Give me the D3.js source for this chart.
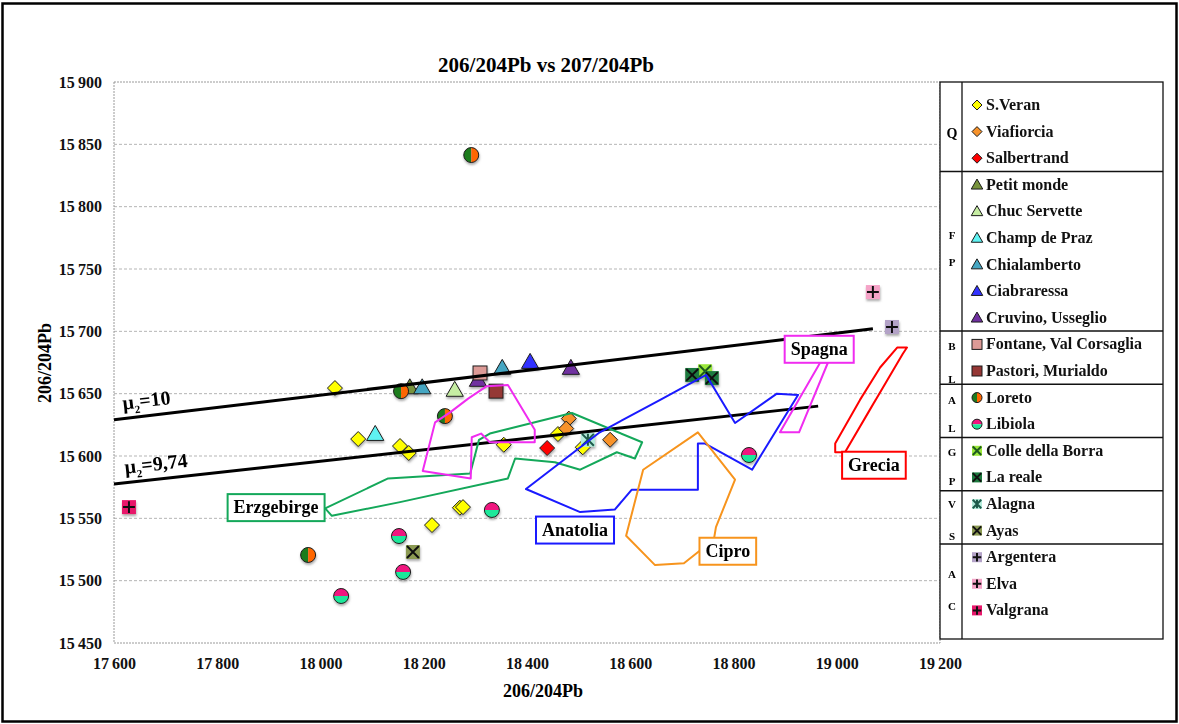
<!DOCTYPE html>
<html>
<head>
<meta charset="utf-8">
<script src="https://cdn.jsdelivr.net/npm/d3@7"></script>
<style>
  body { margin: 0; background: #fff; }
  svg { display: block; }
  text { font-family: "Liberation Serif", "Times New Roman", serif; }
</style>
</head>
<body>
<div id="chart"></div>
<script>
// ---- data ----
const xTicks = [17600, 17800, 18000, 18200, 18400, 18600, 18800, 19000, 19200];
const yTicks = [15450, 15500, 15550, 15600, 15650, 15700, 15750, 15800, 15850, 15900];

const seriesNames = ["S.Veran", "Viafiorcia", "Salbertrand", "Petit monde", "Chuc Servette",
  "Champ de Praz", "Chialamberto", "Ciabraressa", "Cruvino, Usseglio", "Fontane, Val Corsaglia",
  "Pastori, Murialdo", "Loreto", "Libiola", "Colle della Borra", "La reale", "Alagna", "Ayas",
  "Argentera", "Elva", "Valgrana"];

const sVeran = [[18028, 15654.5], [18073, 15613.6], [18154, 15608], [18171, 15602.4], [18355, 15609],
  [18216, 15544.6], [18270, 15558.5], [18276, 15559], [18460, 15617.6], [18508, 15607]];
const viafiorcia = [[18481, 15630], [18476, 15622], [18561, 15613]];
const salbertrand = [[18439, 15606.4]];
const petitMonde = [[18173, 15655]];
const chucServette = [[18260, 15653]];
const champDePraz = [[18106, 15617.6]];
const chialamberto = [[18197, 15655], [18352, 15670.6]];
const ciabraressa = [[18406, 15675.4]];
const cruvino = [[18305, 15661], [18485, 15670.6]];
const fontane = [[18309, 15666.6]];
const pastori = [[18340, 15652]];
const loreto = [[18292, 15841.4], [18156, 15652], [18241, 15632], [17976, 15520.6]];
const libiola = [[18040, 15487.7], [18152, 15535.8], [18160, 15507], [18332, 15556.7], [18830, 15600.8]];
const colleBorra = [[18745, 15668]];
const laReale = [[18720, 15665], [18758, 15662.5]];
const alagna = [[18518, 15613]];
const ayas = [[18179, 15523]];
const argentera = [[19107, 15703.5]];
const elva = [[19070, 15731.5]];
const valgrana = [[17629, 15559]];

const seriesValues = [sVeran, viafiorcia, salbertrand, petitMonde, chucServette, champDePraz,
  chialamberto, ciabraressa, cruvino, fontane, pastori, loreto, libiola, colleBorra, laReale,
  alagna, ayas, argentera, elva, valgrana];

// model lines
const mu10Line = [[17600, 15629], [19070, 15702]];
const mu974Line = [[17600, 15577.5], [18964, 15640]];

// ore field outlines
const erzgebirgeOutline = [[18009, 15558], [18131, 15582], [18290, 15586], [18307, 15613], [18328, 15618],
  [18487, 15634.5], [18623, 15611], [18609, 15598], [18574, 15603], [18503, 15589], [18454, 15595],
  [18377, 15598], [18363, 15582], [18154, 15563], [18022, 15552]];
const spagnaOutline = [[18322, 15656], [18363, 15657], [18415, 15621], [18415, 15611], [18328, 15611],
  [18311, 15618], [18293, 15615], [18291, 15582], [18198, 15588], [18222, 15627], [18251, 15635], [18286, 15646]];
const spagnaOutline2 = [[18968, 15675], [18983, 15675], [18927, 15619], [18890, 15619]];
const anatoliaOutline = [[18398, 15573.5], [18503, 15555], [18570, 15557], [18603, 15573], [18731, 15573],
  [18731, 15610], [18745, 15610], [18836, 15589], [18925, 15649], [18884, 15650], [18803, 15626.5],
  [18747, 15665], [18658, 15645], [18541, 15619]];
const ciproOutline = [[18731, 15619], [18803, 15581], [18766, 15543], [18762, 15533], [18704, 15514],
  [18648, 15512.5], [18592, 15536], [18625, 15589]];
const greciaOutline = [[19136, 15687], [19117, 15687], [19084, 15671], [19045, 15645], [18997, 15610],
  [18997, 15603], [19016, 15603], [19064, 15637], [19128, 15682]];

const regionNames = ["Erzgebirge", "Spagna", "Spagna", "Anatolia", "Cipro", "Grecia"];
const regionOutlines = [erzgebirgeOutline, spagnaOutline, spagnaOutline2, anatoliaOutline, ciproOutline, greciaOutline];
const regionLabelNames = ["Erzgebirge", "Spagna", "Anatolia", "Cipro", "Grecia"];
const regionLabelAt = [[17914, 15559], [18966, 15686], [18493, 15541], [18789, 15524], [19072, 15593]];

// ---- styles ----
const markerStyles = {
  "S.Veran": { shape: "diamond", fill: "#ffff00", stroke: "#1a1a1a" },
  "Viafiorcia": { shape: "diamond", fill: "#f7922a", stroke: "#1a1a1a" },
  "Salbertrand": { shape: "diamond", fill: "#ff0000", stroke: "#1a1a1a" },
  "Petit monde": { shape: "triangle", fill: "#77933c", stroke: "#1a1a1a" },
  "Chuc Servette": { shape: "triangle", fill: "#c6eda3", stroke: "#1a1a1a" },
  "Champ de Praz": { shape: "triangle", fill: "#5ff2f2", stroke: "#1a1a1a" },
  "Chialamberto": { shape: "triangle", fill: "#45a6c2", stroke: "#1a1a1a" },
  "Ciabraressa": { shape: "triangle", fill: "#3333ff", stroke: "#1a1a1a" },
  "Cruvino, Usseglio": { shape: "triangle", fill: "#7030a0", stroke: "#1a1a1a" },
  "Fontane, Val Corsaglia": { shape: "square", fill: "#dc9a96", stroke: "#1a1a1a" },
  "Pastori, Murialdo": { shape: "square", fill: "#953735", stroke: "#1a1a1a" },
  "Loreto": { shape: "halfV", fill: "#1e7b1e", fill2: "#ff6600", stroke: "#1a1a1a" },
  "Libiola": { shape: "halfH", fill: "#f0157f", fill2: "#1fe89a", stroke: "#1a1a1a" },
  "Colle della Borra": { shape: "boxX", fill: "#9be83a", mark: "#1f5a1f" },
  "La reale": { shape: "boxX", fill: "#1d7a3f", mark: "#111" },
  "Alagna": { shape: "boxStar", fill: "#b5ecdc", mark: "#1d5a4a" },
  "Ayas": { shape: "boxX", fill: "#8c9a52", mark: "#111" },
  "Argentera": { shape: "boxPlus", fill: "#b3a2c7", mark: "#111" },
  "Elva": { shape: "boxPlus", fill: "#f5a3c7", mark: "#111" },
  "Valgrana": { shape: "boxPlus", fill: "#e8176b", mark: "#111" }
};
const regionColors = { "Erzgebirge": "#14a85a", "Spagna": "#f02cf0", "Anatolia": "#1a1aff", "Cipro": "#f7941d", "Grecia": "#ff0000" };

const width = 1179, height = 724;
const margin = { top: 82, right: 239, bottom: 81, left: 114 };

const svg = d3.select("#chart").append("svg")
  .attr("width", width).attr("height", height);

const defs = svg.append("defs");
defs.append("filter").attr("id", "shadow").attr("x", "-50%").attr("y", "-50%").attr("width", "200%").attr("height", "200%")
  .append("feDropShadow").attr("dx", 0.5).attr("dy", 2).attr("stdDeviation", 0.9)
  .attr("flood-color", "#777").attr("flood-opacity", 0.6);

// outer frame
svg.append("rect").attr("x", 2.5).attr("y", 3.5).attr("width", width - 5).attr("height", height - 6)
  .attr("fill", "none").attr("stroke", "#000").attr("stroke-width", 2.5);

const x = d3.scaleLinear().domain([17600, 19200]).range([margin.left, width - margin.right]);
const y = d3.scaleLinear().domain([15450, 15900]).range([height - margin.bottom, margin.top]);

// gridlines
svg.append("g").selectAll("line").data(yTicks.slice(1, -1)).join("line")
  .attr("x1", x(17600)).attr("x2", x(19200))
  .attr("y1", d => y(d)).attr("y2", d => y(d))
  .attr("stroke", "#b5b5b5").attr("stroke-dasharray", "3,2");

svg.append("rect")
  .attr("x", x(17600)).attr("y", y(15900))
  .attr("width", x(19200) - x(17600)).attr("height", y(15450) - y(15900))
  .attr("fill", "none").attr("stroke", "#9a9a9a").attr("stroke-dasharray", "2,1");

const fmt = d => d3.format(",")(d).replace(",", "\u2009");

const yAxis = svg.append("g")
  .attr("transform", `translate(${margin.left},0)`)
  .call(d3.axisLeft(y).tickValues(yTicks).tickSize(0).tickPadding(12).tickFormat(fmt));
yAxis.select(".domain").remove();
yAxis.selectAll("text").attr("font-family", "Liberation Serif").attr("font-size", 16).attr("font-weight", "bold").attr("fill", "#111");

const xAxis = svg.append("g")
  .attr("transform", `translate(0,${height - margin.bottom})`)
  .call(d3.axisBottom(x).tickValues(xTicks).tickSize(0).tickPadding(15).tickFormat(fmt));
xAxis.select(".domain").remove();
xAxis.selectAll("text").attr("font-family", "Liberation Serif").attr("font-size", 16).attr("font-weight", "bold").attr("fill", "#111");

// titles
svg.append("text").attr("x", 546).attr("y", 72).attr("text-anchor", "middle")
  .attr("font-size", 21).attr("font-weight", "bold").text("206/204Pb vs 207/204Pb");
svg.append("text").attr("x", 543).attr("y", 697).attr("text-anchor", "middle")
  .attr("font-size", 18).attr("font-weight", "bold").text("206/204Pb");
svg.append("text").attr("transform", "translate(51,363) rotate(-90)").attr("text-anchor", "middle")
  .attr("font-size", 18).attr("font-weight", "bold").text("206/204Pb");

// markers
function drawMarker(g, st, s) {
  const sw = 1;
  if (st.shape === "diamond") {
    g.append("path").attr("d", `M0,${-s}L${s},0L0,${s}L${-s},0Z`)
      .attr("fill", st.fill).attr("stroke", st.stroke).attr("stroke-width", sw);
  } else if (st.shape === "triangle") {
    g.append("path").attr("d", `M0,${-s * 1.15}L${s * 1.15},${s * 0.85}L${-s * 1.15},${s * 0.85}Z`)
      .attr("fill", st.fill).attr("stroke", st.stroke).attr("stroke-width", sw);
  } else if (st.shape === "square") {
    g.append("rect").attr("x", -s).attr("y", -s).attr("width", 2 * s).attr("height", 2 * s)
      .attr("fill", st.fill).attr("stroke", st.stroke).attr("stroke-width", sw);
  } else if (st.shape === "halfV" || st.shape === "halfH") {
    const a = st.shape === "halfV"
      ? [`M0,${-s}A${s},${s} 0 0 0 0,${s}Z`, `M0,${-s}A${s},${s} 0 0 1 0,${s}Z`]
      : [`M${-s},0A${s},${s} 0 0 1 ${s},0Z`, `M${-s},0A${s},${s} 0 0 0 ${s},0Z`];
    g.append("path").attr("d", a[0]).attr("fill", st.fill);
    g.append("path").attr("d", a[1]).attr("fill", st.fill2);
    g.append("circle").attr("r", s).attr("fill", "none").attr("stroke", st.stroke).attr("stroke-width", sw);
  } else {
    g.append("rect").attr("x", -s).attr("y", -s).attr("width", 2 * s).attr("height", 2 * s)
      .attr("fill", st.fill);
    const k = s * 0.85;
    let d;
    if (st.shape === "boxPlus") d = `M0,${-k}V${k}M${-k},0H${k}`;
    else if (st.shape === "boxStar") d = `M${-k},${-k}L${k},${k}M${k},${-k}L${-k},${k}M0,${-k}V${k}`;
    else d = `M${-k},${-k}L${k},${k}M${k},${-k}L${-k},${k}`;
    g.append("path").attr("d", d).attr("stroke", st.mark).attr("stroke-width", 2).attr("fill", "none");
  }
}

const markerSize = { diamond: 7.5, triangle: 7.5, square: 7, halfV: 7.5, halfH: 7.5, boxX: 7, boxPlus: 7, boxStar: 7 };

const pts = svg.append("g").attr("filter", "url(#shadow)");
seriesNames.forEach((name, i) => {
  const st = markerStyles[name];
  seriesValues[i].forEach(p => {
    const g = pts.append("g").attr("transform", `translate(${x(p[0])},${y(p[1])})`);
    drawMarker(g, st, markerSize[st.shape]);
  });
});

// model lines
const line = d3.line().x(d => x(d[0])).y(d => y(d[1]));
[mu10Line, mu974Line].forEach(l => {
  svg.append("path").attr("d", line(l)).attr("fill", "none").attr("stroke", "#000").attr("stroke-width", 3);
});

function muLabel(l, sub, rest, xv, lift) {
  const [p0, p1] = l;
  const ang = Math.atan2(y(p1[1]) - y(p0[1]), x(p1[0]) - x(p0[0])) * 180 / Math.PI;
  const yv = p0[1] + (p1[1] - p0[1]) * (xv - p0[0]) / (p1[0] - p0[0]);
  const t = svg.append("text")
    .attr("transform", `translate(${x(xv)},${y(yv) - lift}) rotate(${ang})`)
    .attr("font-family", "Liberation Sans, Arial, sans-serif").attr("font-size", 20).attr("font-weight", "bold");
  t.append("tspan").text("\u03bc");
  t.append("tspan").attr("font-size", 11).attr("dy", 5).text(sub);
  t.append("tspan").attr("dy", -5).text(rest);
}
muLabel(mu10Line, "2", "=10", 17618, 9);
muLabel(mu974Line, "2", "=9,74", 17622, 9);

// region outlines
regionOutlines.forEach((poly, i) => {
  svg.append("path").attr("d", line(poly) + "Z").attr("fill", "none")
    .attr("stroke", regionColors[regionNames[i]]).attr("stroke-width", 2).attr("stroke-linejoin", "round");
});

regionLabelNames.forEach((name, i) => {
  const cx = x(regionLabelAt[i][0]), cy = y(regionLabelAt[i][1]);
  const g = svg.append("g");
  const t = g.append("text").attr("x", cx).attr("y", cy + 6).attr("text-anchor", "middle")
    .attr("font-size", 18).attr("font-weight", "bold").text(name);
  const bb = t.node().getBBox();
  g.insert("rect", "text").attr("x", bb.x - 6).attr("y", cy - 13).attr("width", bb.width + 12).attr("height", 27)
    .attr("fill", "#fff").attr("stroke", regionColors[name]).attr("stroke-width", 2);
});

// legend
const legX0 = 940, legX1 = 1163, legCol = 962, legTop = 82, legBottom = 639;
const rowY = i => 105 + i * 26.6;
const leg = svg.append("g");
leg.append("rect").attr("x", legX0).attr("y", legTop).attr("width", legX1 - legX0).attr("height", legBottom - legTop)
  .attr("fill", "#fff").attr("stroke", "#111").attr("stroke-width", 1.3);
leg.append("line").attr("x1", legCol).attr("x2", legCol).attr("y1", legTop).attr("y2", legBottom)
  .attr("stroke", "#111").attr("stroke-width", 1.3);

const groupEnds = [2, 8, 10, 12, 14, 16];
leg.selectAll(".sep").data(groupEnds).join("line")
  .attr("x1", legX0).attr("x2", legX1)
  .attr("y1", d => rowY(d) + 13.3).attr("y2", d => rowY(d) + 13.3)
  .attr("stroke", "#111").attr("stroke-width", 1.5);

const groupLetters = ["Q", "F", "P", "B", "L", "A", "L", "G", "P", "V", "S", "A", "C"];
const groupRows = [1.05, 4.9, 5.9, 9.05, 10.3, 11.1, 12.15, 13.05, 14.15, 15.0, 16.2, 17.65, 18.85];
groupLetters.forEach((c, i) => {
  leg.append("text").attr("x", 952).attr("y", rowY(groupRows[i]) + (c === "Q" ? 5 : 4)).attr("text-anchor", "middle")
    .attr("font-size", c === "Q" ? 14 : 11).attr("font-weight", "bold").text(c);
});

seriesNames.forEach((name, i) => {
  const g = leg.append("g").attr("transform", `translate(977,${rowY(i)})`);
  drawMarker(g, markerStyles[name], 5);
  leg.append("text").attr("x", 986).attr("y", rowY(i) + 5)
    .attr("font-size", 16).attr("font-weight", "bold").attr("fill", "#111").text(name);
});
</script>
</body>
</html>
